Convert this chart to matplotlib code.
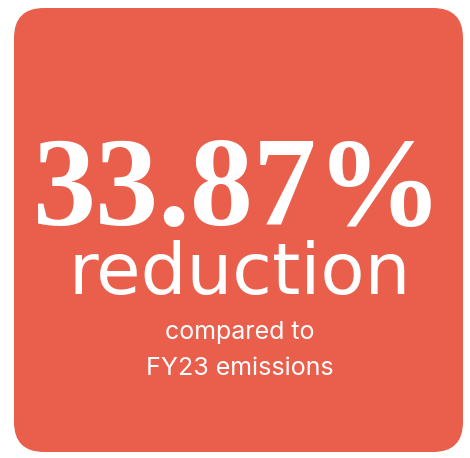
import matplotlib.pyplot as plt
from matplotlib.patches import FancyBboxPatch

# card content
headline = "33.87%"
subhead = "reduction"
caption_lines = ["compared to", "FY23 emissions"]

card_color = "#EA5E4C"

fig = plt.figure(figsize=(4.70, 4.58), dpi=100)
ax = fig.add_axes([0, 0, 1, 1])
ax.set_xlim(0, 470)
ax.set_ylim(458, 0)
ax.axis("off")

# rounded card
card = FancyBboxPatch((14 + 30, 8 + 30), 449 - 60, 444 - 60,
                      boxstyle="round,pad=30", fc=card_color, ec="none")
ax.add_patch(card)

ax.text(238, 225, headline, ha="center", va="baseline", color="white",
        fontsize=91, fontweight="bold", family="Liberation Serif")
ax.text(240, 294, subhead, ha="center", va="baseline", color="white",
        fontsize=52, family="DejaVu Sans")
for i, line in enumerate(caption_lines):
    ax.text(240, 339 + i * 36, line, ha="center", va="baseline", color="white",
            fontsize=18, family="Inter")

fig.savefig("out.png", dpi=100)
